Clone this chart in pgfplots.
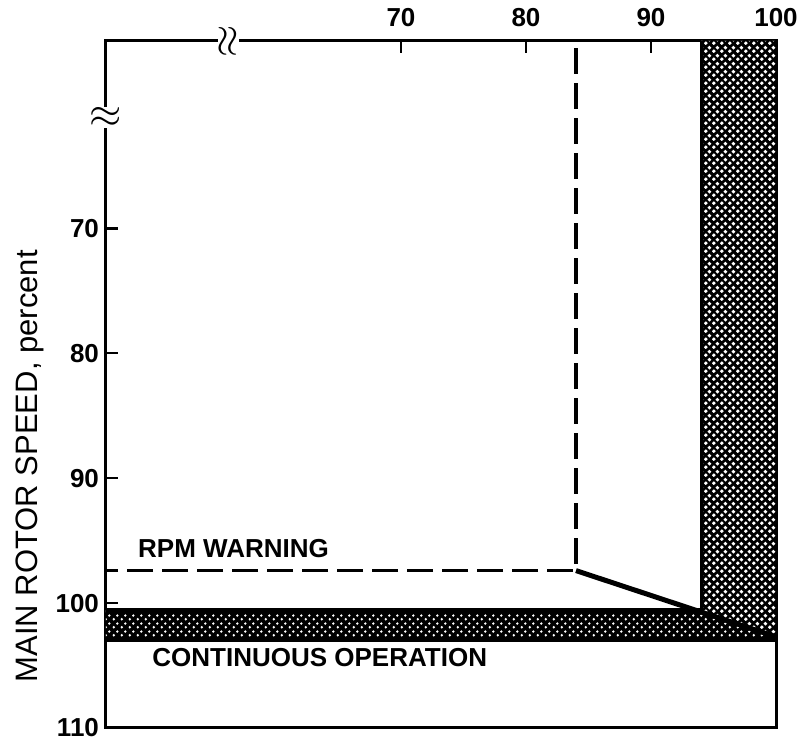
\documentclass[border=0pt]{standalone}
\usepackage{pgfplots}
\pgfplotsset{compat=1.18}
\usepackage{fontspec}
\setmainfont{Liberation Sans}
\usetikzlibrary{patterns}
\pgfdeclarepatternformonly{wdotsA}{\pgfqpoint{0pt}{0pt}}{\pgfqpoint{4pt}{4pt}}{\pgfqpoint{4pt}{4pt}}{%
 \pgfpathcircle{\pgfqpoint{1pt}{1pt}}{1.1pt}%
 \pgfpathcircle{\pgfqpoint{3pt}{3pt}}{1.1pt}%
 \pgfusepath{fill}}
\pgfdeclarepatternformonly{wdotsB}{\pgfqpoint{0pt}{0pt}}{\pgfqpoint{4pt}{4pt}}{\pgfqpoint{4pt}{4pt}}{%
 \pgfpathcircle{\pgfqpoint{1pt}{1pt}}{0.75pt}%
 \pgfpathcircle{\pgfqpoint{3pt}{3pt}}{0.75pt}%
 \pgfusepath{fill}}
\begin{document}
\begin{tikzpicture}
\begin{axis}[
 scale only axis, width=335pt, height=343.5pt,
 xmin=46.4, xmax=100, ymin=55, ymax=110, y dir=reverse,
 axis line style={line width=1.5pt},
 xtick={70,80,90,100}, ytick={70,80,90,100,110},
 xtick pos=right, xticklabel pos=right,
 ytick pos=left,
 tick align=inside, major tick length=6pt, tick style={line width=1.2pt, black},
 ticklabel style={font=\fontsize{13}{13}\selectfont\bfseries},
 xticklabel style={yshift=3.5pt},
 /pgf/number format/assume math mode=true,
 ylabel={MAIN ROTOR SPEED, percent},
 ylabel style={at={(axis description cs:-0.113,0.381)}, anchor=center, font=\fontsize{15.5}{15.5}\selectfont},
 clip mode=individual,
]
% shaded region
\addplot[draw=none, fill=black] coordinates {(94,55) (100,55) (100,103) (46.4,103) (46.4,100.5) (94,100.5)};
\addplot[draw=none, pattern=wdotsA, pattern color=white] coordinates {(94,55) (100,55) (100,102.7) (94,100.6)};
\addplot[draw=none, pattern=wdotsB, pattern color=white] coordinates {(46.4,100.5) (94,100.5) (100,102.7) (100,103) (46.4,103)};
% band borders
\addplot[black, line width=3pt] coordinates {(46.4,100.6) (94,100.6)};
\addplot[black, line width=2.8pt] coordinates {(46.4,102.9) (100,102.9)};
\addplot[black, line width=1.5pt] coordinates {(94,55) (94,100.6)};
% RPM warning dashed
\addplot[black, line width=1.75pt, dash pattern=on 13pt off 4.5pt] coordinates {(84,55.6) (84,97.4) (46.4,97.4)};
% solid diagonal
\addplot[black, line width=2.5pt] coordinates {(84,97.4) (100,102.7)};
% labels
\node[font=\fontsize{13}{13}\selectfont\bfseries] at (axis cs:56.6,95.6) {RPM WARNING};
\node[font=\fontsize{13}{13}\selectfont\bfseries] at (axis cs:63.5,104.4) {CONTINUOUS OPERATION};
% axis breaks
\node[fill=white, inner sep=0.3pt, rotate=90] at (axis cs:56.2,55) {\huge$\approx$};
\node[fill=white, inner sep=0.3pt] at (axis cs:46.4,61.1) {\huge$\approx$};
\end{axis}
\pgfresetboundingbox
\path ([shift={(-53pt,-6.5pt)}]current axis.south west) rectangle ([shift={(11.5pt,20.5pt)}]current axis.north east);
\end{tikzpicture}
\end{document}
